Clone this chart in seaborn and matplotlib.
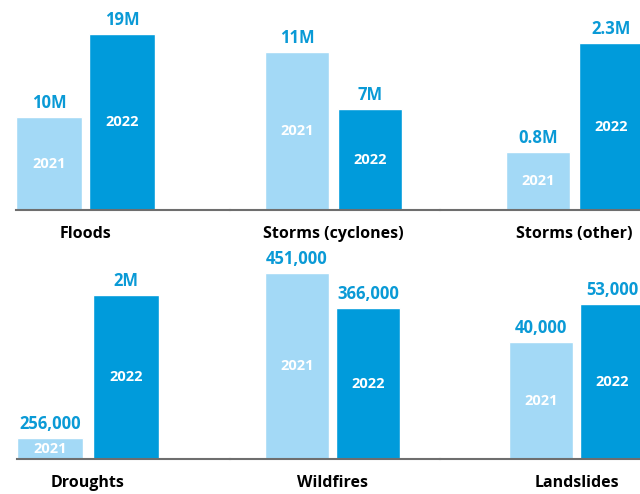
import matplotlib
matplotlib.use('Agg')
import matplotlib.pyplot as plt
import seaborn as sns
import pandas as pd

# Data: people displaced by hazard type, 2021 vs 2022
hazards = ['Floods', 'Storms (cyclones)', 'Storms (other)',
           'Droughts', 'Wildfires', 'Landslides']
years = ['2021', '2022']
values_2021 = [10_000_000, 11_000_000, 800_000, 256_000, 451_000, 40_000]
values_2022 = [19_000_000, 7_000_000, 2_300_000, 2_000_000, 366_000, 53_000]
labels_2021 = ['10M', '11M', '0.8M', '256,000', '451,000', '40,000']
labels_2022 = ['19M', '7M', '2.3M', '2M', '366,000', '53,000']

# Layout in pixels: axes left/right, axes top/bottom, first bar centre,
# bar spacing, bar width, pixel height of tallest bar
layout = [
    (16, 230, 0, 210, 49, 73, 66, 176),
    (230, 440, 0, 210, 297, 73, 64, 158),
    (440, 640, 0, 210, 538, 73, 64, 167),
    (17, 230, 250, 459, 50, 76, 66, 164),
    (230, 440, 250, 459, 297, 71, 64, 186),
    (440, 640, 250, 459, 541, 71, 64, 155),
]

light = '#a3d9f6'
dark = '#009bdb'
text_blue = '#0a9ad6'
W, H = 640, 494

sns.set_style('white')
plt.rcParams['font.family'] = ['Open Sans', 'DejaVu Sans']

fig = plt.figure(figsize=(W / 100, H / 100), dpi=100)

for i, name in enumerate(hazards):
    left, right, top, bottom, c0, sp, bw, tall = layout[i]
    ax = fig.add_axes([left / W, (H - bottom) / H, (right - left) / W, (bottom - top) / H])
    df = pd.DataFrame({'year': years, 'value': [values_2021[i], values_2022[i]]})
    sns.barplot(data=df, x='year', y='value', hue='year', palette=[light, dark],
                width=bw / sp, legend=False, ax=ax, saturation=1)

    vmax = max(df['value'])
    ax.set_ylim(0, vmax * (bottom - top) / tall)
    ax.set_xlim((left - c0) / sp, (right - c0) / sp)

    for j, (v, lab) in enumerate(zip(df['value'], [labels_2021[i], labels_2022[i]])):
        ax.annotate(lab, (j, v), xytext=(0, 6.5), textcoords='offset points',
                    ha='center', va='baseline', color=text_blue,
                    fontsize=12, fontweight='bold', annotation_clip=False)
        ax.text(j, v / 2, years[j], ha='center', va='center', color='white',
                fontsize=10.5, fontweight='bold')

    ax.annotate(name, (0.5, 0), xytext=(0, -20.5), textcoords='offset points',
                ha='center', va='baseline', color='black',
                fontsize=11.5, fontweight='bold', annotation_clip=False)

    ax.set_xticks([])
    ax.set_yticks([])
    ax.set_xlabel('')
    ax.set_ylabel('')
    for s in ['top', 'left', 'right']:
        ax.spines[s].set_visible(False)
    ax.spines['bottom'].set_color('#6e6e6e')
    ax.spines['bottom'].set_linewidth(1.5)
    ax.patch.set_alpha(0)

fig.savefig('out.png', dpi=100)
